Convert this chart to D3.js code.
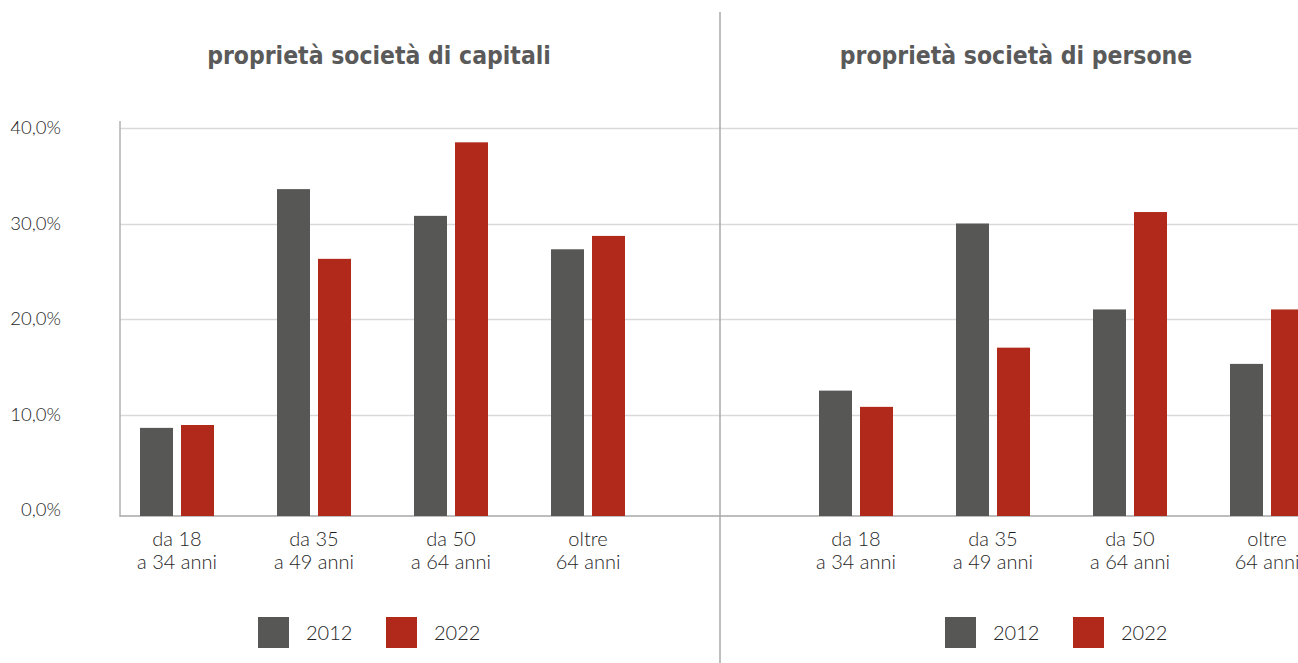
<!DOCTYPE html>
<html>
<head>
<meta charset="utf-8">
<script src="https://cdn.jsdelivr.net/npm/d3@7"></script>
<style>
  html, body { margin: 0; padding: 0; background: #fff; }
  svg { display: block; }
</style>
</head>
<body>
<svg id="chart" width="1298" height="663"></svg>
<script>
// Age groups shown on the x axis (two lines each)
const categories = ["da 18|a 34 anni", "da 35|a 49 anni", "da 50|a 64 anni", "oltre|64 anni"];
const years = ["2012", "2022"];
const yTicks = [0, 10, 20, 30, 40];

// Share of ownership by age group, percent
const capitali2012 = [8.6, 33.6, 30.8, 27.3];
const capitali2022 = [8.9, 26.3, 38.5, 28.7];
const persone2012 = [12.5, 30.0, 21.0, 15.3];
const persone2022 = [10.8, 17.0, 31.2, 21.0];

const panelTitles = ["proprietà società di capitali", "proprietà società di persone"];

const colors = { "2012": "#575756", "2022": "#b0291a" };

const svg = d3.select("#chart");
const W = 1298, H = 663;

const itLocale = d3.formatLocale({ decimal: ",", thousands: ".", grouping: [3], currency: ["", "€"] });
const fmt = itLocale.format(".1f");
const textFont = "Lato, 'Open Sans', sans-serif";

// Shared vertical scale
const y = d3.scaleLinear().domain([0, 40]).range([510, 128]);
const baseY = 516;
const axisX = 120;

// Horizontal gridlines across both panels
svg.append("g")
  .selectAll("line")
  .data(yTicks.filter(d => d > 0))
  .join("line")
  .attr("x1", axisX).attr("x2", W)
  .attr("y1", d => Math.round(y(d)) + 0.5).attr("y2", d => Math.round(y(d)) + 0.5)
  .attr("stroke", "#d9d9d9").attr("stroke-width", 1.5);

// Y tick labels
const yAxis = d3.axisLeft(y).tickValues(yTicks).tickSize(0).tickPadding(0)
  .tickFormat(d => fmt(d) + "%");
const gy = svg.append("g").attr("transform", "translate(61,0)").call(yAxis);
gy.select(".domain").remove();
gy.selectAll("text")
  .attr("font-family", textFont)
  .attr("font-weight", 300)
  .attr("font-size", 18.5)
  .attr("fill", "#1e1e1e");

// Baseline across the full width
svg.append("line")
  .attr("x1", axisX).attr("x2", W)
  .attr("y1", baseY).attr("y2", baseY)
  .attr("stroke", "#bdbdbd").attr("stroke-width", 2);

// Left vertical axis line
svg.append("line")
  .attr("x1", axisX).attr("x2", axisX)
  .attr("y1", 121).attr("y2", baseY + 1)
  .attr("stroke", "#b0b0b0").attr("stroke-width", 1.5);

// Separator between panels
svg.append("line")
  .attr("x1", 720).attr("x2", 720)
  .attr("y1", 12).attr("y2", H)
  .attr("stroke", "#a8a8a8").attr("stroke-width", 1.5);

const panels = [
  { title: panelTitles[0], v2012: capitali2012, v2022: capitali2022, offset: 0, titleX: 379, legendX: 258 },
  { title: panelTitles[1], v2012: persone2012, v2022: persone2022, offset: 679, titleX: 1016, legendX: 945 }
];

panels.forEach(p => {
  const g = svg.append("g");

  // Category bands
  const x0 = d3.scaleBand().domain(categories)
    .range([108.5 + p.offset, 108.5 + p.offset + 137 * categories.length])
    .paddingInner(0).paddingOuter(0);
  // Year sub-bands inside each category
  const x1 = d3.scaleBand().domain(years).range([-37, 37]).paddingInner(8 / 41);

  const rows = categories.map((c, i) => ({ cat: c, vals: [
    { year: "2012", value: p.v2012[i] },
    { year: "2022", value: p.v2022[i] }
  ]}));

  const grp = g.selectAll("g.cat").data(rows).join("g")
    .attr("class", "cat")
    .attr("transform", d => `translate(${x0(d.cat) + x0.bandwidth() / 2},0)`);

  grp.selectAll("rect").data(d => d.vals).join("rect")
    .attr("x", d => x1(d.year))
    .attr("width", x1.bandwidth())
    .attr("y", d => y(d.value))
    .attr("height", d => baseY - y(d.value))
    .attr("fill", d => colors[d.year]);

  // Two-line category labels
  const lbl = grp.append("text")
    .attr("text-anchor", "middle")
    .attr("font-family", textFont)
    .attr("font-weight", 300)
    .attr("font-size", 20)
    .attr("fill", "#1e1e1e");
  lbl.selectAll("tspan").data(d => d.cat.split("|")).join("tspan")
    .attr("x", 0)
    .attr("y", (d, i) => 546 + i * 23)
    .text(d => d);

  // Panel title
  g.append("text")
    .attr("x", p.titleX).attr("y", 64)
    .attr("text-anchor", "middle")
    .attr("font-family", "'DejaVu Sans Condensed', 'DejaVu Sans', sans-serif")
    .attr("font-weight", "bold")
    .attr("font-size", 24.5)
    .attr("fill", "#5a5a5a")
    .text(p.title);

  // Legend
  const leg = g.selectAll("g.leg").data(years).join("g")
    .attr("class", "leg")
    .attr("transform", (d, i) => `translate(${p.legendX + i * 128},617)`);
  leg.append("rect").attr("width", 31).attr("height", 31).attr("fill", d => colors[d]);
  leg.append("text")
    .attr("x", 48).attr("y", 23)
    .attr("font-family", textFont)
    .attr("font-weight", 300)
    .attr("font-size", 20)
    .attr("fill", "#1e1e1e")
    .text(d => d);
});
</script>
</body>
</html>
